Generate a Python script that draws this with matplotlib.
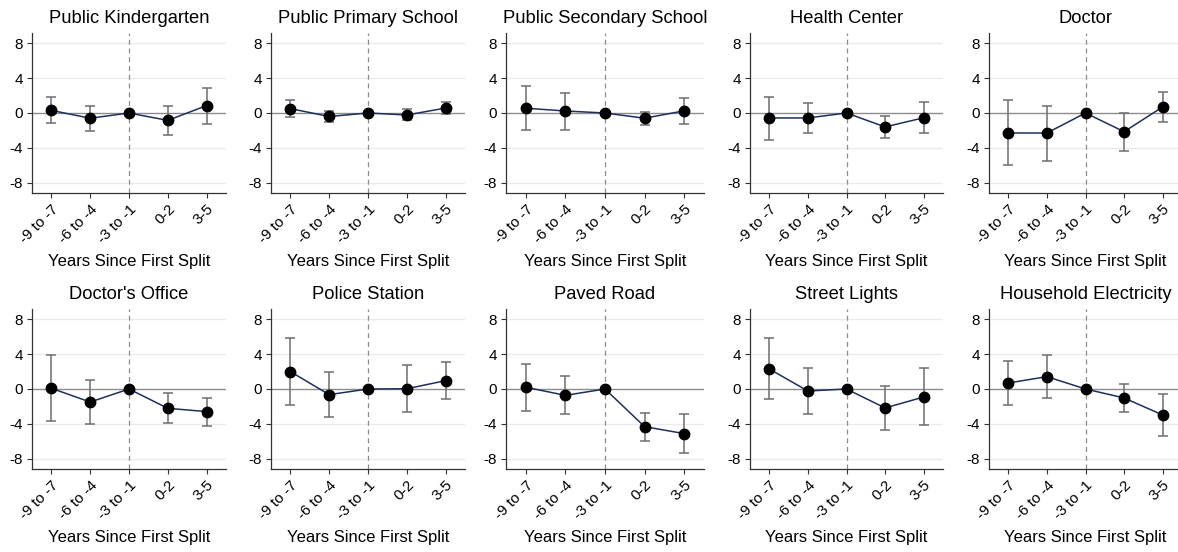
import matplotlib
matplotlib.use("Agg")
import matplotlib.pyplot as plt
import numpy as np

plt.rcParams['font.family'] = ['Liberation Sans', 'DejaVu Sans']

periods = ["-9 to -7", "-6 to -4", "-3 to -1", "0-2", "3-5"]
titles = ["Public Kindergarten", "Public Primary School", "Public Secondary School",
          "Health Center", "Doctor", "Doctor's Office", "Police Station",
          "Paved Road", "Street Lights", "Household Electricity"]

kinder_est = [0.30, -0.60, 0.0, -0.85, 0.85]
kinder_lo = [-1.20, -2.05, 0.0, -2.50, -1.25]
kinder_hi = [1.85, 0.80, 0.0, 0.85, 2.90]

primary_est = [0.50, -0.40, 0.0, -0.23, 0.57]
primary_lo = [-0.50, -1.03, 0.0, -0.85, -0.08]
primary_hi = [1.50, 0.27, 0.0, 0.42, 1.30]

secondary_est = [0.55, 0.23, 0.0, -0.60, 0.25]
secondary_lo = [-1.90, -1.90, 0.0, -1.40, -1.25]
secondary_hi = [3.05, 2.35, 0.0, 0.15, 1.70]

health_est = [-0.57, -0.57, 0.0, -1.60, -0.55]
health_lo = [-3.10, -2.35, 0.0, -2.87, -2.30]
health_hi = [1.88, 1.10, 0.0, -0.30, 1.26]

doctor_est = [-2.30, -2.30, 0.0, -2.15, 0.70]
doctor_lo = [-6.00, -5.48, 0.0, -4.40, -1.03]
doctor_hi = [1.45, 0.85, 0.0, 0.05, 2.40]

office_est = [0.08, -1.50, 0.0, -2.22, -2.60]
office_lo = [-3.72, -4.00, 0.0, -3.95, -4.25]
office_hi = [3.95, 1.07, 0.0, -0.46, -1.00]

police_est = [2.00, -0.65, 0.0, 0.03, 0.96]
police_lo = [-1.80, -3.18, 0.0, -2.68, -1.15]
police_hi = [5.85, 1.92, 0.0, 2.76, 3.07]

road_est = [0.20, -0.73, 0.0, -4.33, -5.13]
road_lo = [-2.49, -2.83, 0.0, -5.98, -7.32]
road_hi = [2.87, 1.50, 0.0, -2.72, -2.91]

lights_est = [2.30, -0.23, 0.0, -2.18, -0.92]
lights_lo = [-1.11, -2.91, 0.0, -4.71, -4.14]
lights_hi = [5.82, 2.45, 0.0, 0.34, 2.38]

elec_est = [0.69, 1.42, 0.0, -1.03, -2.99]
elec_lo = [-1.80, -1.00, 0.0, -2.60, -5.36]
elec_hi = [3.26, 3.87, 0.0, 0.61, -0.61]

series = [
    (kinder_est, kinder_lo, kinder_hi),
    (primary_est, primary_lo, primary_hi),
    (secondary_est, secondary_lo, secondary_hi),
    (health_est, health_lo, health_hi),
    (doctor_est, doctor_lo, doctor_hi),
    (office_est, office_lo, office_hi),
    (police_est, police_lo, police_hi),
    (road_est, road_lo, road_hi),
    (lights_est, lights_lo, lights_hi),
    (elec_est, elec_lo, elec_hi),
]
yticks = [-8, -4, 0, 4, 8]

W, H = 1178, 552
fig = plt.figure(figsize=(W / 100, H / 100), dpi=100)

col_left = [32, 271, 506, 750, 989]
col_width = [194, 194, 198, 193, 193]
row_top = [33, 309]
ax_h = 160

x = np.arange(len(periods))
for i, (title, (est, lo, hi)) in enumerate(zip(titles, series)):
    r, c = divmod(i, 5)
    left = col_left[c] / W
    bottom = 1 - (row_top[r] + ax_h) / H
    ax = fig.add_axes([left, bottom, col_width[c] / W, ax_h / H])
    est = np.array(est); lo = np.array(lo); hi = np.array(hi)
    for yv in [-8, -4, 4, 8]:
        ax.axhline(yv, color='#eaeaea', lw=0.9, zorder=0)
    ax.axhline(0, color='#8c8c8c', lw=1.0, zorder=1)
    ax.axvline(2, color='#8c8c8c', lw=0.9, ls=(0, (4, 3)), zorder=1)
    ax.errorbar(x, est, yerr=[est - lo, hi - est], fmt='none', ecolor='#6e6e6e',
                elinewidth=1.1, capsize=3.5, capthick=1.1, zorder=2)
    ax.plot(x, est, color='#1f2f5c', lw=1.1, zorder=3)
    ax.plot(x, est, 'o', color='black', ms=7.5, zorder=4)
    ax.set_xlim(-0.5, 4.5)
    ax.set_ylim(-9.2, 9.2)
    ax.set_yticks(yticks)
    ax.set_yticklabels([str(v) for v in yticks])
    ax.set_xticks(x)
    ax.set_xticklabels(periods, rotation=45, ha='right', rotation_mode='anchor')
    for s in ['top', 'right']:
        ax.spines[s].set_visible(False)
    for s in ['left', 'bottom']:
        ax.spines[s].set_color('#333333')
        ax.spines[s].set_linewidth(0.9)
    ax.tick_params(axis='both', labelsize=11, length=3.5, width=0.8, color='#333333', pad=3)
    ax.text(0.5, 1 + 10 / ax_h, title, transform=ax.transAxes, ha='center',
            va='baseline', fontsize=13.2)
    ax.set_xlabel("Years Since First Split", fontsize=12, va='center')
    ax.xaxis.set_label_coords(0.5, -0.43)

fig.savefig("out.png", dpi=100)
